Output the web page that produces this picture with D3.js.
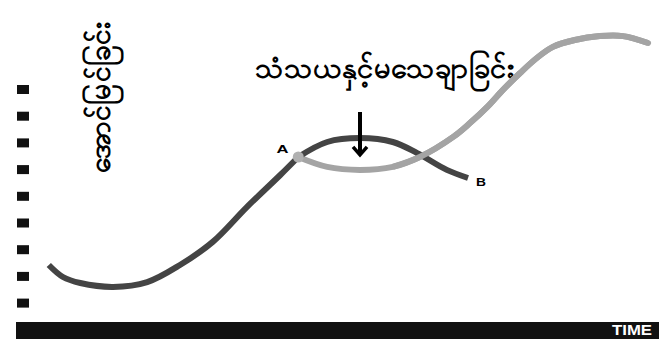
<!DOCTYPE html>
<html><head><meta charset="utf-8">
<script src="https://cdn.jsdelivr.net/npm/d3@7"></script>
<style>html,body{margin:0;padding:0;background:#fff;}svg{display:block;}</style>
</head><body>
<svg id="c" width="670" height="339"></svg>
<script>
// Main success curve (time, success)
const mainTime    = [5.1, 7.3, 10.0, 15.1, 20.4, 25.5, 30.6, 35.9, 41.1, 43.9];
const mainSuccess = [19, 15, 13, 11.7, 13.3, 19, 26.7, 38.3, 49, 55];
// Expected path A -> B (dark)
const expTime     = [43.9, 48.4, 53.5, 58.6, 62.4, 67.0, 70.3];
const expSuccess  = [55, 60, 61.3, 60, 56.3, 50.7, 48];
// Actual path through doubt (light)
const actTime     = [43.9, 48.4, 53.5, 58.6, 62.8, 68.0, 70.6, 73.3, 75.7, 78.4, 81.0, 83.5, 86.9, 90.8, 94.4, 98.3];
const actSuccess  = [55, 51.7, 50.7, 51.7, 55, 61.7, 66.3, 71.7, 77.3, 83.0, 88.0, 91.7, 94.0, 95.3, 95.3, 93.0];
// Axis tick levels
const tickLevels  = [6.3, 15.2, 24.1, 33, 41.9, 50.8, 59.7, 68.6, 77.5];
// Labels
const yLabel = "အောင်မြင်ခြင်း";
const title = "သံသယနှင့်မသေချာခြင်း";
const xLabel = "TIME";
const pointA = {t: 43.9, s: 55, label: "A"};
const pointB = {t: 70.3, s: 48, label: "B"};
const arrowT = 53.5, arrowTop = 70, arrowBottom = 55.7;

const svg = d3.select("#c");
const x = d3.scaleLinear().domain([0, 100]).range([16, 659]);
const y = d3.scaleLinear().domain([0, 100]).range([322, 22]);

const line = d3.line().x(d => x(d[0])).y(d => y(d[1])).curve(d3.curveCatmullRom.alpha(0.5));
const zip = (a, b) => a.map((v, i) => [v, b[i]]);

// bottom bar
svg.append("rect").attr("x", x(0)).attr("y", y(0)).attr("width", x(100) - x(0)).attr("height", 17).attr("fill", "#111");
svg.append("text").attr("x", 612).attr("y", 335).attr("textLength", 40).attr("lengthAdjust", "spacingAndGlyphs")
  .attr("font-family", "Liberation Sans, Arial, sans-serif").attr("font-weight", "bold").attr("font-size", 14)
  .attr("fill", "#fff").text(xLabel);

// tick squares
svg.selectAll("rect.tk").data(tickLevels).join("rect").attr("class", "tk")
  .attr("x", 17).attr("y", d => y(d) - 4.5).attr("width", 12).attr("height", 9).attr("fill", "#111");

// y label (rotated)
svg.append("text").attr("transform", `translate(110,98) rotate(-90)`).attr("text-anchor", "middle")
  .attr("font-size", 28).attr("font-weight", "bold").attr("textLength", 150).attr("lengthAdjust", "spacingAndGlyphs")
  .attr("fill", "#000").text(yLabel);

// title
svg.append("text").attr("x", 384).attr("y", 78).attr("text-anchor", "middle")
  .attr("font-size", 28).attr("font-weight", "bold").attr("textLength", 258).attr("lengthAdjust", "spacingAndGlyphs")
  .attr("fill", "#000").text(title);

// curves
svg.append("path").attr("d", line(zip(actTime, actSuccess))).attr("fill", "none")
  .attr("stroke", "#a4a4a4").attr("stroke-width", 6).attr("stroke-linecap", "round");
svg.append("path").attr("d", line(zip(mainTime, mainSuccess))).attr("fill", "none")
  .attr("stroke", "#444").attr("stroke-width", 6).attr("stroke-linecap", "butt");
svg.append("path").attr("d", line(zip(expTime, expSuccess))).attr("fill", "none")
  .attr("stroke", "#444").attr("stroke-width", 6).attr("stroke-linecap", "butt");
svg.append("path").attr("d", line(zip(actTime.slice(3), actSuccess.slice(3)))).attr("fill", "none")
  .attr("stroke", "#a4a4a4").attr("stroke-width", 6);
svg.append("circle").attr("cx", x(pointA.t)).attr("cy", y(pointA.s)).attr("r", 5.5).attr("fill", "#b0b0b0");

// labels A/B
svg.append("text").attr("x", x(pointA.t) - 21.7).attr("y", y(pointA.s) - 4)
  .attr("textLength", 12).attr("lengthAdjust", "spacingAndGlyphs")
  .attr("font-family", "Liberation Sans, Arial, sans-serif").attr("font-weight", "bold").attr("font-size", 11).text(pointA.label);
svg.append("text").attr("x", x(pointB.t) + 8).attr("y", y(pointB.s) + 7.5)
  .attr("textLength", 10).attr("lengthAdjust", "spacingAndGlyphs")
  .attr("font-family", "Liberation Sans, Arial, sans-serif").attr("font-weight", "bold").attr("font-size", 11).text(pointB.label);

// arrow
const ax = x(arrowT);
svg.append("line").attr("x1", ax).attr("x2", ax).attr("y1", y(arrowTop)).attr("y2", y(arrowBottom) - 2)
  .attr("stroke", "#000").attr("stroke-width", 4);
svg.append("path").attr("d", `M${ax - 7},${y(arrowBottom) - 8} L${ax},${y(arrowBottom)} L${ax + 7},${y(arrowBottom) - 8}`)
  .attr("fill", "none").attr("stroke", "#000").attr("stroke-width", 3.5);
</script>
</body></html>
